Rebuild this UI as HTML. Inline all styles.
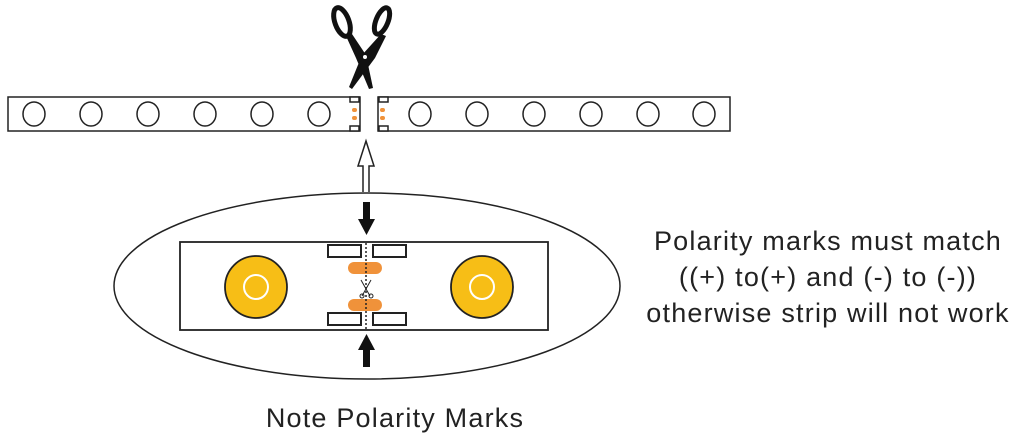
<!DOCTYPE html>
<html><head><style>
body{margin:0;background:#fff;width:1017px;height:441px;overflow:hidden}
svg{display:block}
text{font-family:"Liberation Sans",sans-serif;fill:#222}
</style></head><body>
<svg width="1017" height="441" viewBox="0 0 1017 441">
<!-- scissors -->
<g fill="#111" stroke="#111">
<path d="M346 36 L352 34 L366 55 L373 88 L369 89 L356 58 Z" stroke="none"/>
<path d="M381 34 L386 36 L375 58 L352 89 L349 87 L362 55 Z" stroke="none"/>
<ellipse cx="342" cy="22" rx="7" ry="15" transform="rotate(-20 342 22)" fill="none" stroke-width="5"/>
<ellipse cx="382" cy="21" rx="6" ry="14" transform="rotate(22 382 21)" fill="none" stroke-width="5"/>
<circle cx="365" cy="57" r="2" fill="#fff" stroke="none"/>
</g>
<!-- strips -->
<g fill="#fff" stroke="#222" stroke-width="1.5">
<rect x="8" y="97" width="352" height="34"/>
<rect x="378" y="97" width="352" height="34"/>
<rect x="350" y="97" width="9" height="5"/><rect x="350" y="126" width="9" height="5"/>
<rect x="379" y="97" width="9" height="5"/><rect x="379" y="126" width="9" height="5"/>
<ellipse cx="34" cy="114" rx="11" ry="12"/><ellipse cx="91" cy="114" rx="11" ry="12"/><ellipse cx="148" cy="114" rx="11" ry="12"/><ellipse cx="205" cy="114" rx="11" ry="12"/><ellipse cx="262" cy="114" rx="11" ry="12"/><ellipse cx="319" cy="114" rx="11" ry="12"/>
<ellipse cx="420" cy="114" rx="11" ry="12"/><ellipse cx="477" cy="114" rx="11" ry="12"/><ellipse cx="534" cy="114" rx="11" ry="12"/><ellipse cx="591" cy="114" rx="11" ry="12"/><ellipse cx="648" cy="114" rx="11" ry="12"/><ellipse cx="704" cy="114" rx="11" ry="12"/>
</g>
<g fill="#f0923a"><rect x="352" y="108" width="5" height="4" rx="2"/><rect x="352" y="116" width="5" height="4" rx="2"/><rect x="380" y="108" width="5" height="4" rx="2"/><rect x="380" y="116" width="5" height="4" rx="2"/></g>
<!-- hollow arrow -->
<path d="M363 192 L363 166 L358 166 L366 141 L374 166 L369 166 L369 192" fill="#fff" stroke="#222" stroke-width="1.5"/>
<!-- ellipse -->
<ellipse cx="367" cy="286" rx="253" ry="93" fill="none" stroke="#222" stroke-width="1.5"/>
<rect x="180" y="242" width="368" height="88" fill="#fff" stroke="#222" stroke-width="1.8"/>
<!-- black arrows -->
<path d="M363 202 L370 202 L370 219 L375 219 L366.5 235 L358 219 L363 219 Z" fill="#111"/>
<path d="M363 367 L370 367 L370 350 L375 350 L366.5 334 L358 350 L363 350 Z" fill="#111"/>
<!-- pads -->
<g fill="#fff" stroke="#222" stroke-width="2">
<rect x="328" y="245" width="33" height="12"/><rect x="373" y="245" width="33" height="12"/>
<rect x="328" y="313" width="33" height="12"/><rect x="373" y="313" width="33" height="12"/>
</g>
<rect x="348" y="262" width="34" height="12" rx="6" fill="#f0923a"/>
<rect x="348" y="299" width="34" height="12" rx="6" fill="#f0923a"/>
<line x1="366" y1="243" x2="366" y2="330" stroke="#222" stroke-width="1.5" stroke-dasharray="2,2"/>
<g stroke="#222" stroke-width="1" fill="none"><path d="M361 280 L370 296 M371 280 L362 296"/><circle cx="362" cy="296" r="2"/><circle cx="371" cy="296" r="2"/></g>
<!-- yellow circles -->
<g stroke="#222" stroke-width="1.8" fill="#f7be16"><circle cx="256" cy="287" r="31"/><circle cx="482" cy="287" r="31"/></g>
<g stroke="#fff" stroke-width="2" fill="none"><circle cx="256" cy="287" r="12"/><circle cx="482" cy="287" r="12"/></g>
<!-- text -->
<g font-size="27" text-anchor="middle" letter-spacing="1.2">
<text x="828" y="250">Polarity marks must match</text>
<text x="828" y="286">((+) to(+) and (-) to (-))</text>
<text x="828" y="322">otherwise strip will not work</text>
<text x="395" y="427">Note Polarity Marks</text>
</g>
</svg>
</body></html>
